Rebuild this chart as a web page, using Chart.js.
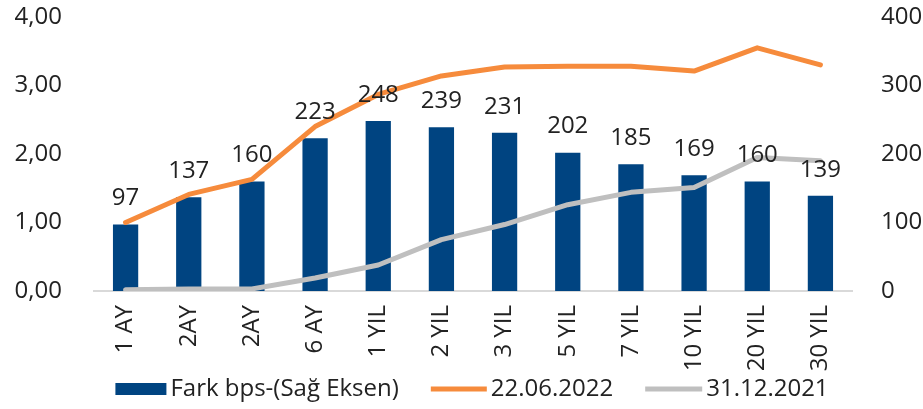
<!DOCTYPE html>
<html lang="tr">
<head>
    <meta charset="UTF-8">
    <title>Fark bps</title>
    <script src="https://cdn.jsdelivr.net/npm/chart.js"></script>
    <style>
        html, body {
            margin: 0;
            padding: 0;
            background: #ffffff;
        }
        .chart-container {
            width: 923px;
            height: 409px;
            position: relative;
        }
    </style>
</head>
<body>
    <div class="chart-container">
        <canvas id="yieldChart"></canvas>
    </div>

    <script>
        const categories = ['1 AY', '2AY', '2AY', '6 AY', '1 YIL', '2 YIL', '3 YIL', '5 YIL', '7 YIL', '10 YIL', '20 YIL', '30 YIL'];
        const farkBps = [97, 137, 160, 223, 248, 239, 231, 202, 185, 169, 160, 139];
        const yield220622 = [1.00, 1.41, 1.63, 2.40, 2.87, 3.14, 3.27, 3.28, 3.28, 3.21, 3.55, 3.30];
        const yield311221 = [0.02, 0.03, 0.03, 0.19, 0.38, 0.75, 0.97, 1.26, 1.44, 1.51, 1.95, 1.90];
        const leftTicks = [0, 1, 2, 3, 4];
        const rightTicks = [0, 100, 200, 300, 400];

        const textColor = '#222222';
        const fontFamily = '"Open Sans", "DejaVu Sans", sans-serif';
        const fontSize = 24;

        // value labels above the bars, drawn on top of the lines
        const barLabels = {
            id: 'barLabels',
            afterDatasetsDraw(chart) {
                const ctx = chart.ctx;
                const meta = chart.getDatasetMeta(0);
                ctx.save();
                ctx.font = fontSize + 'px ' + fontFamily;
                ctx.fillStyle = textColor;
                ctx.textAlign = 'center';
                ctx.textBaseline = 'middle';
                meta.data.forEach((bar, i) => {
                    ctx.fillText(farkBps[i], bar.x, bar.y - 26);
                });
                ctx.restore();
            }
        };

        // legend drawn by hand so the symbols and spacing follow the original
        const bottomLegend = {
            id: 'bottomLegend',
            afterDraw(chart) {
                const ctx = chart.ctx;
                const ds = chart.data.datasets;
                const y = 389;
                const symW = [51, 56, 57];
                const gap = 4, itemGap = 32;
                ctx.save();
                ctx.font = fontSize + 'px ' + fontFamily;
                const textW = ds.map(d => ctx.measureText(d.label).width);
                let total = 0;
                ds.forEach((d, i) => { total += symW[i] + gap + textW[i]; });
                total += itemGap * (ds.length - 1);
                let x = 472 - total / 2;
                ds.forEach((d, i) => {
                    if (d.type === 'bar') {
                        ctx.fillStyle = d.backgroundColor;
                        ctx.fillRect(x, y - 6, symW[i], 12);
                    } else {
                        ctx.strokeStyle = d.borderColor;
                        ctx.lineWidth = d.borderWidth;
                        ctx.beginPath();
                        ctx.moveTo(x, y);
                        ctx.lineTo(x + symW[i], y);
                        ctx.stroke();
                    }
                    x += symW[i] + gap;
                    ctx.fillStyle = textColor;
                    ctx.textAlign = 'left';
                    ctx.textBaseline = 'middle';
                    ctx.fillText(d.label, x, y);
                    x += textW[i] + itemGap;
                });
                ctx.restore();
            }
        };

        const fixSide = (axis, width) => {
            axis.width = width;
            axis.paddingTop = 0;
            axis.paddingBottom = 0;
        };

        const ctx = document.getElementById('yieldChart').getContext('2d');
        const chart = new Chart(ctx, {
            type: 'bar',
            data: {
                labels: categories,
                datasets: [
                    {
                        type: 'bar',
                        label: 'Fark bps-(Sağ Eksen)',
                        data: farkBps,
                        yAxisID: 'yRight',
                        backgroundColor: '#004481',
                        barPercentage: 0.4,
                        categoryPercentage: 1.0,
                        order: 3
                    },
                    {
                        type: 'line',
                        label: '22.06.2022',
                        data: yield220622,
                        yAxisID: 'yLeft',
                        borderColor: '#f68b3c',
                        backgroundColor: '#f68b3c',
                        borderWidth: 5,
                        pointRadius: 0,
                        tension: 0,
                        borderCapStyle: 'round',
                        borderJoinStyle: 'round',
                        order: 1
                    },
                    {
                        type: 'line',
                        label: '31.12.2021',
                        data: yield311221,
                        yAxisID: 'yLeft',
                        borderColor: '#bfbfbf',
                        backgroundColor: '#bfbfbf',
                        borderWidth: 5,
                        pointRadius: 0,
                        tension: 0,
                        borderCapStyle: 'round',
                        borderJoinStyle: 'round',
                        order: 2
                    }
                ]
            },
            options: {
                responsive: true,
                maintainAspectRatio: false,
                animation: false,
                layout: {
                    padding: { left: 0, right: 0, top: 17, bottom: 35 }
                },
                plugins: {
                    tooltip: { enabled: false },
                    legend: { display: false }
                },
                scales: {
                    x: {
                        grid: { display: false },
                        border: { display: true, color: '#d9d9d9', width: 2 },
                        afterFit(axis) {
                            axis.height = 83;
                            axis.paddingLeft = 0;
                            axis.paddingRight = 0;
                        },
                        ticks: {
                            color: textColor,
                            font: { family: fontFamily, size: fontSize },
                            minRotation: 90,
                            maxRotation: 90,
                            padding: 6
                        }
                    },
                    yLeft: {
                        type: 'linear',
                        position: 'left',
                        min: leftTicks[0],
                        max: leftTicks[leftTicks.length - 1],
                        grid: { display: false },
                        border: { display: false },
                        afterFit(axis) { fixSide(axis, 94); },
                        afterBuildTicks(axis) {
                            axis.ticks = leftTicks.map(v => ({ value: v }));
                        },
                        ticks: {
                            color: textColor,
                            font: { family: fontFamily, size: fontSize },
                            padding: 24,
                            callback: v => v.toFixed(2).replace('.', ',')
                        }
                    },
                    yRight: {
                        type: 'linear',
                        position: 'right',
                        min: rightTicks[0],
                        max: rightTicks[rightTicks.length - 1],
                        grid: { display: false },
                        border: { display: false },
                        afterFit(axis) { fixSide(axis, 71); },
                        afterBuildTicks(axis) {
                            axis.ticks = rightTicks.map(v => ({ value: v }));
                        },
                        ticks: {
                            color: textColor,
                            font: { family: fontFamily, size: fontSize },
                            padding: 21
                        }
                    }
                }
            },
            plugins: [barLabels, bottomLegend]
        });
    </script>
</body>
</html>
